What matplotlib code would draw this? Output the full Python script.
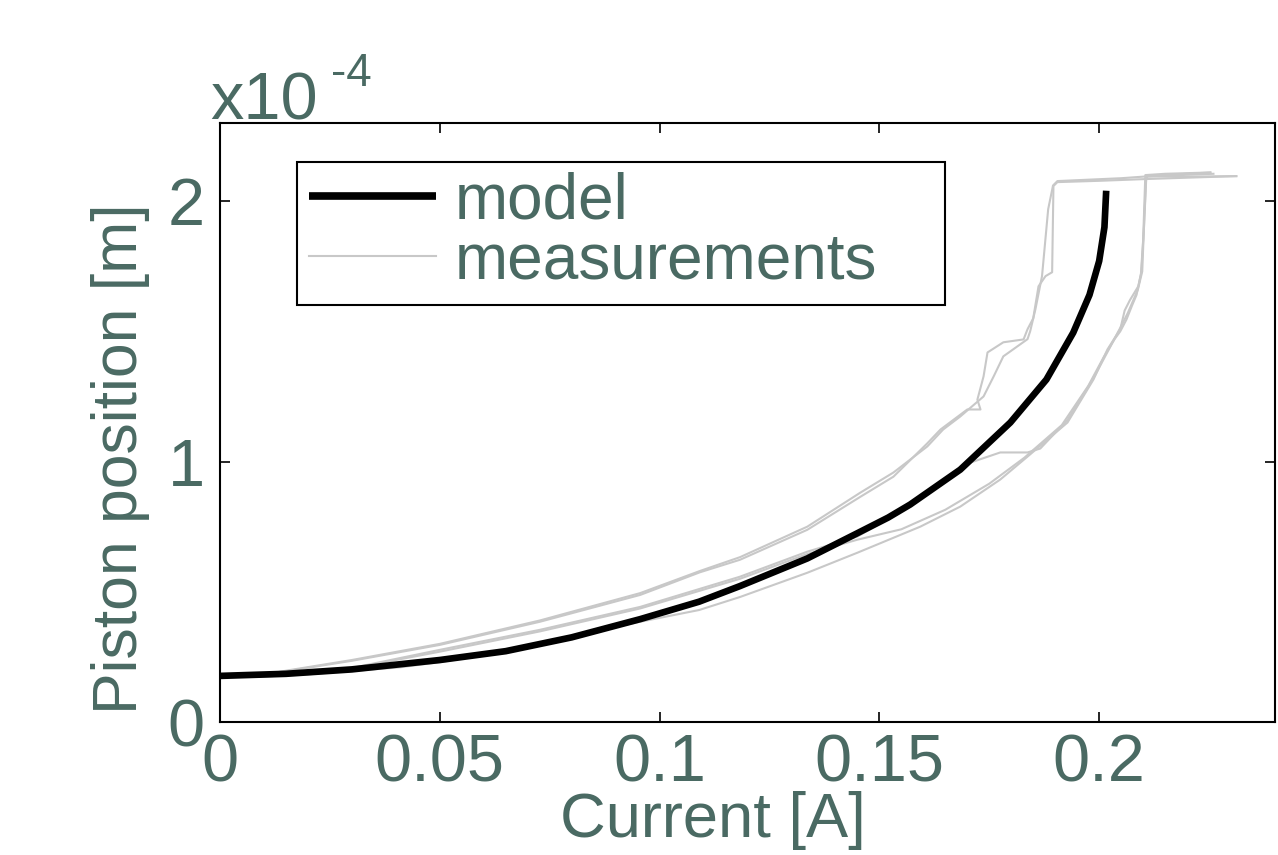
import numpy as np
import matplotlib
matplotlib.use("Agg")
import matplotlib.pyplot as plt
from matplotlib.ticker import FuncFormatter
from matplotlib.patches import Rectangle

plt.rcParams['font.family'] = ['Liberation Sans', 'DejaVu Sans']

TXT = '#4a6a63'
GREY = '#c8c8c8'

# model curve (current [A], position [x1e-4 m])
model_x = [0, 0.015, 0.03, 0.05, 0.065, 0.08, 0.0956, 0.109, 0.1183, 0.1336,
           0.145, 0.152, 0.157, 0.1684, 0.1798, 0.188, 0.1941, 0.1978, 0.2000,
           0.2012, 0.2016]
model_y = [0.177, 0.185, 0.202, 0.238, 0.272, 0.325, 0.395, 0.462, 0.522, 0.628,
           0.725, 0.785, 0.835, 0.969, 1.15, 1.315, 1.495, 1.64, 1.77,
           1.90, 2.04]

# measured traces, rising branches
r1_x = [0.008, 0.02, 0.041, 0.05, 0.065, 0.08, 0.0956, 0.109, 0.1183, 0.1336,
        0.145, 0.1593, 0.1684, 0.1775, 0.1837, 0.1928, 0.1987, 0.2019, 0.2048,
        0.2058, 0.207, 0.2089, 0.2096, 0.2102, 0.2107, 0.211, 0.220, 0.2312]
r1_y = [0.173, 0.183, 0.21, 0.23, 0.27, 0.33, 0.385, 0.43, 0.48, 0.573,
        0.65, 0.75, 0.827, 0.931, 1.019, 1.15, 1.315, 1.431, 1.508,
        1.58, 1.62, 1.673, 1.727, 1.9, 2.085, 2.095, 2.094, 2.096]

r2_x = [0.010, 0.025, 0.05, 0.0728, 0.0956, 0.1183, 0.1336, 0.145, 0.155, 0.165,
        0.175, 0.183, 0.1915, 0.1975, 0.201, 0.2035, 0.2048, 0.2062, 0.2075,
        0.2085, 0.2095, 0.2100, 0.2105, 0.215, 0.2253]
r2_y = [0.178, 0.19, 0.27, 0.348, 0.436, 0.55, 0.645, 0.70, 0.74, 0.815,
        0.915, 1.015, 1.14, 1.29, 1.40, 1.47, 1.50, 1.545, 1.60,
        1.64, 1.72, 1.85, 2.10, 2.105, 2.11]

m_x = [0.009, 0.025, 0.05, 0.0728, 0.0956, 0.1183, 0.1336, 0.145, 0.152, 0.157,
       0.163, 0.1707, 0.1775, 0.1837, 0.1866, 0.1928, 0.1987, 0.2025, 0.205,
       0.2065, 0.2088, 0.2098, 0.2103, 0.2107, 0.218, 0.226]
m_y = [0.175, 0.19, 0.277, 0.354, 0.442, 0.558, 0.654, 0.712, 0.78, 0.827,
       0.904, 0.996, 1.035, 1.035, 1.05, 1.16, 1.32, 1.44, 1.52,
       1.57, 1.66, 1.73, 1.95, 2.095, 2.10, 2.105]

# falling branches
f1_x = [0.2312, 0.22, 0.211, 0.2, 0.1905, 0.1896, 0.1893, 0.1878, 0.1862, 0.1850,
        0.1837, 0.1828, 0.1782, 0.1746, 0.1737, 0.1723, 0.173, 0.17, 0.1639,
        0.1609, 0.1532, 0.1457, 0.1336, 0.1183, 0.1092, 0.0956, 0.0728, 0.05,
        0.03, 0.015, 0.008]
f1_y = [2.096, 2.09, 2.085, 2.078, 2.073, 2.058, 1.727, 1.712, 1.673, 1.55,
        1.508, 1.469, 1.458, 1.419, 1.327, 1.238, 1.2, 1.2, 1.123,
        1.07, 0.942, 0.865, 0.738, 0.623, 0.575, 0.488, 0.385, 0.296,
        0.235, 0.195, 0.181]

f2_x = [0.2253, 0.215, 0.205, 0.1905, 0.1895, 0.1884, 0.187, 0.1855, 0.1843,
        0.1837, 0.1782, 0.176, 0.1737, 0.1684, 0.1645, 0.1609, 0.1532, 0.1457,
        0.1336, 0.1183, 0.1092, 0.0956, 0.0728, 0.05, 0.03, 0.015, 0.009]
f2_y = [2.11, 2.10, 2.088, 2.077, 2.06, 1.969, 1.712, 1.585, 1.50,
        1.47, 1.404, 1.327, 1.25, 1.173, 1.123, 1.058, 0.958, 0.881,
        0.75, 0.633, 0.58, 0.495, 0.39, 0.30, 0.238, 0.197, 0.178]

traces = [(r1_x, r1_y), (r2_x, r2_y), (m_x, m_y), (f1_x, f1_y), (f2_x, f2_y)]
scale = 1e-4

fig = plt.figure(figsize=(12.78, 8.55), dpi=100)
ax = fig.add_axes([220 / 1278, 1 - 722 / 855, 1055 / 1278, 599 / 855])

for i, (tx, ty) in enumerate(traces):
    ax.plot(tx, np.array(ty) * scale, color=GREY, lw=1.5,
            label='measurements' if i == 0 else None, zorder=2)
ax.plot(model_x, np.array(model_y) * scale, color='black', lw=4.8,
        label='model', zorder=3, solid_capstyle='butt', solid_joinstyle='round')

ax.set_xlim(0, 0.24)
ax.set_ylim(0, 2.3e-4)
ax.set_xticks([0, 0.05, 0.1, 0.15, 0.2])
ax.set_xticklabels(['0', '0.05', '0.1', '0.15', '0.2'])
ax.set_yticks([0, 1e-4, 2e-4])
ax.yaxis.set_major_formatter(FuncFormatter(lambda v, p: f'{v / scale:g}'))

ax.tick_params(direction='in', length=7, width=1.2, top=True, right=True,
               labelsize=48, labelcolor=TXT, color='black')
ax.tick_params(axis='x', pad=8)
ax.tick_params(axis='y', pad=11)
for s in ax.spines.values():
    s.set_linewidth(1.5)

ax.set_xlabel('Current [A]', fontsize=45.5, color=TXT)
ax.xaxis.set_label_coords(0.467, -0.116)
ax.set_ylabel('Piston position [m]', fontsize=45, color=TXT)
ax.yaxis.set_label_coords(-0.066, 0.439)

# MATLAB style exponent label
fig.text(210 / 1278, 1 - 119 / 855, 'x10', fontsize=48, color=TXT,
         ha='left', va='baseline')
fig.text(331 / 1278, 1 - 86 / 855, '-4', fontsize=33, color=TXT,
         ha='left', va='baseline')

# legend with a wider frame drawn separately
ax.add_patch(Rectangle((0.073, 0.696), 0.614, 0.239, transform=ax.transAxes,
                       facecolor='white', edgecolor='black', lw=1.5, zorder=4))
h, l = ax.get_legend_handles_labels()
leg = ax.legend(h[::-1], l[::-1], loc='upper left', bbox_to_anchor=(0.075, 0.935),
                fontsize=46, frameon=False, handlelength=2.0, handletextpad=0.28,
                borderpad=0.15, labelspacing=0.0, borderaxespad=0)
leg.set_zorder(5)
leg.legend_handles[0].set_linewidth(5.5)
for t in leg.get_texts():
    t.set_color(TXT)

fig.savefig('out.png', dpi=100)
